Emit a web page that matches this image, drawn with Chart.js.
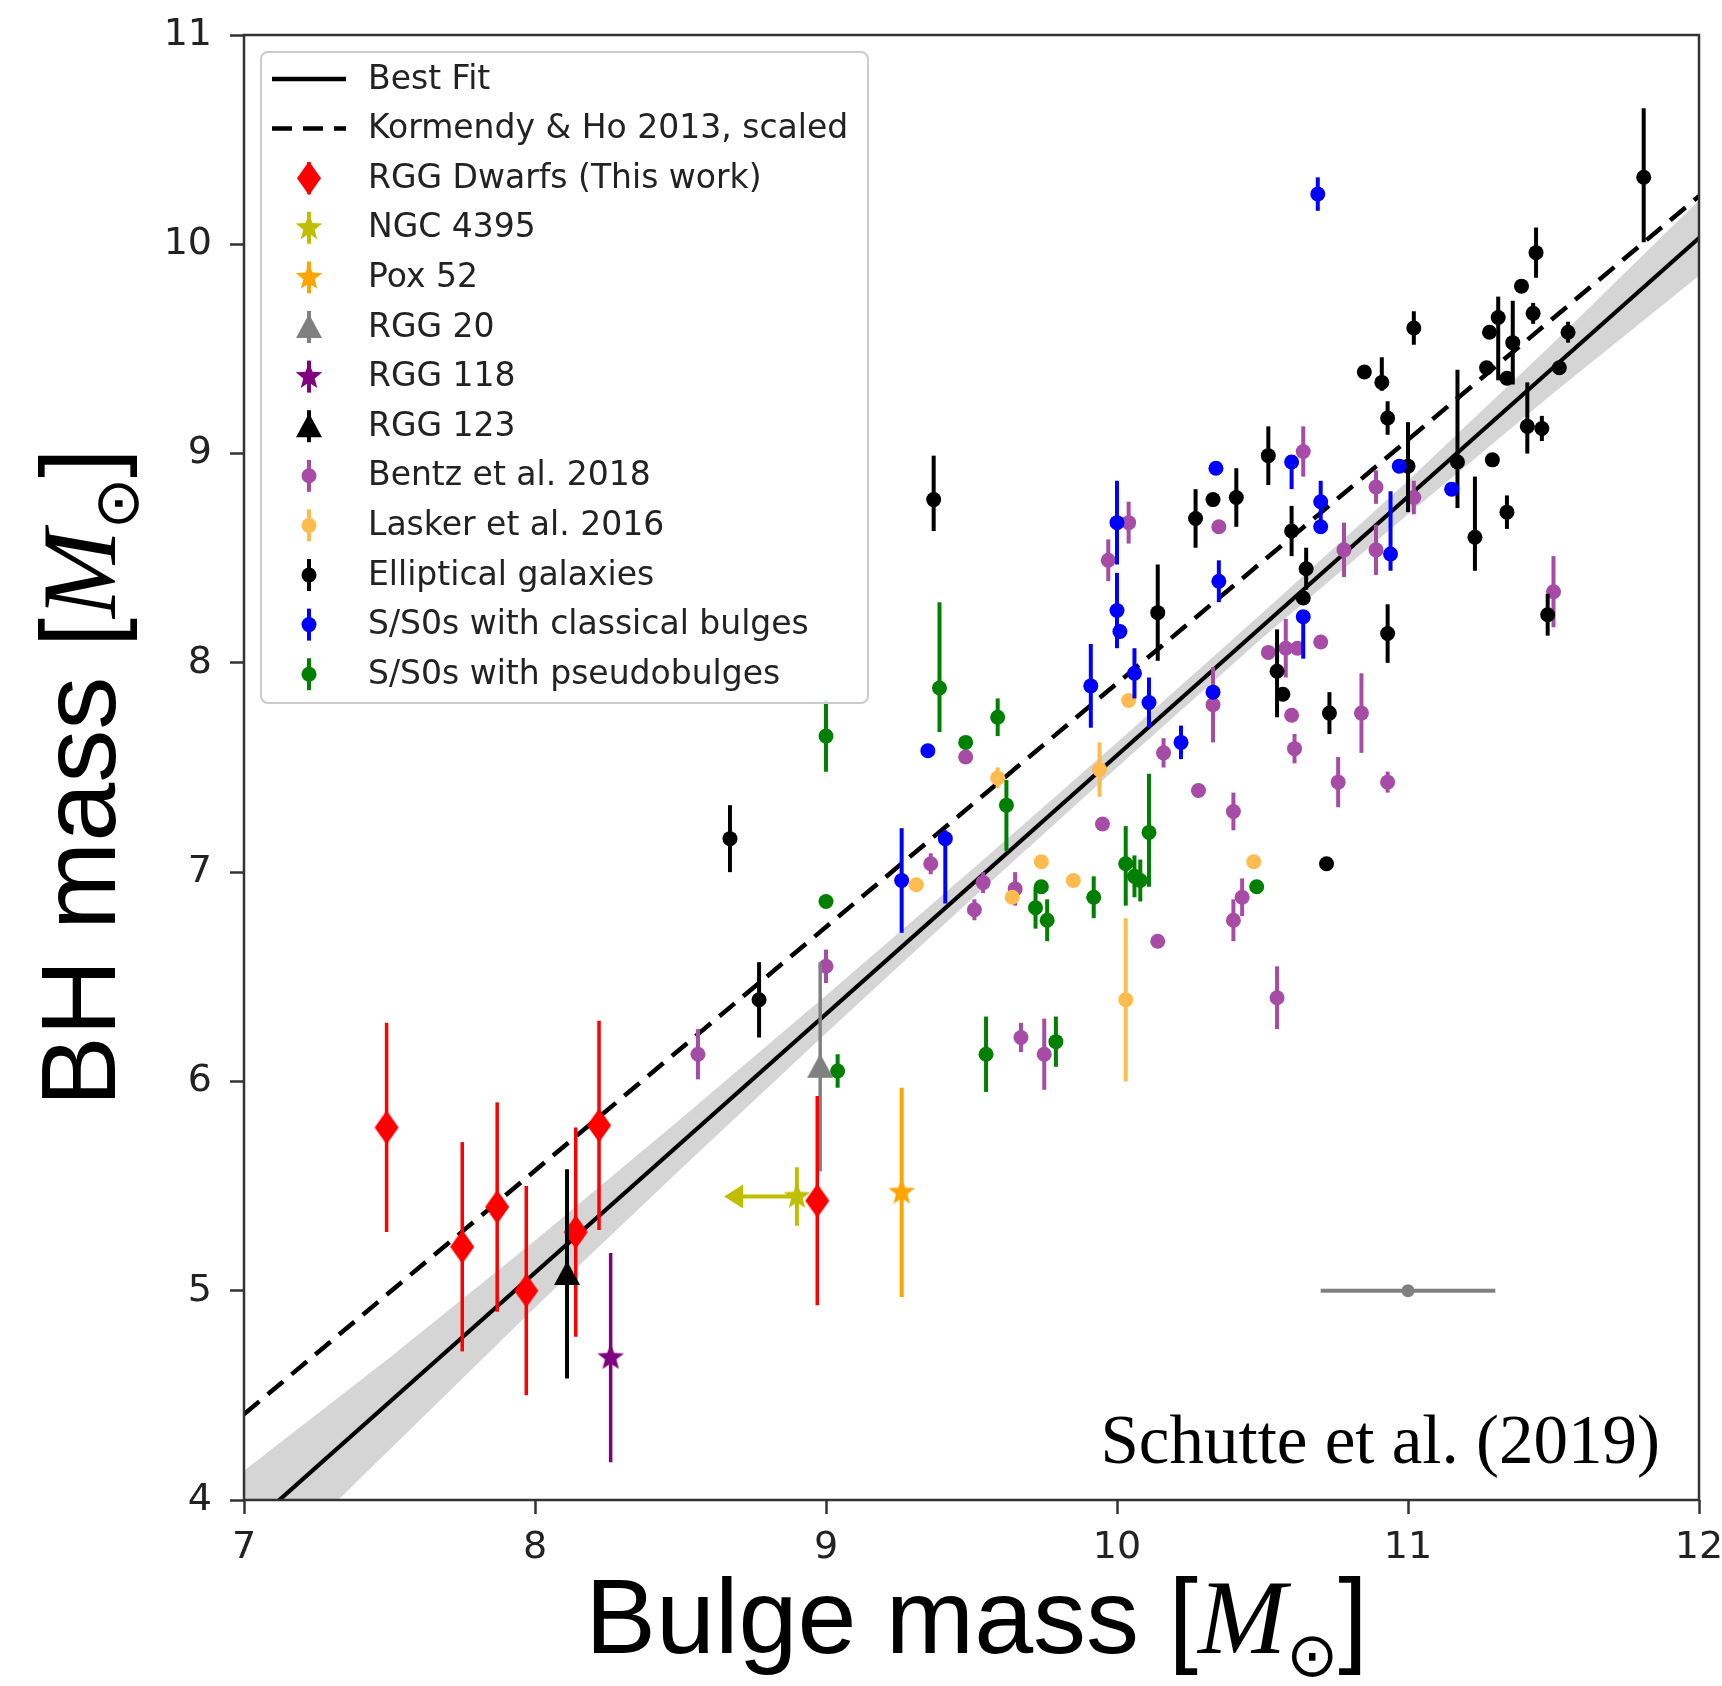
<!DOCTYPE html>
<html lang="en">
<head>
<meta charset="utf-8">
<title>BH mass vs bulge mass</title>
<script src="https://cdn.jsdelivr.net/npm/chart.js@4.4.1/dist/chart.umd.min.js"></script>
<style>
  html, body { margin: 0; padding: 0; background: #fff; }
  canvas { display: block; }
</style>
</head>
<body>
<canvas id="chart" width="1722" height="1686"></canvas>
<script>
/* ---------------- datos (log10 masas) ---------------- */
const X_TICKS = [7, 8, 9, 10, 11, 12];
const Y_TICKS = [4, 5, 6, 7, 8, 9, 10, 11];

// rectas y banda de confianza
const fitX = [7, 12];
const fitY = [3.85, 10.03];
const khX = [7, 12];
const khY = [4.41, 10.23];
const bandX  = [7, 7.5, 8, 8.5, 9, 9.5, 10, 10.5, 11, 11.5, 12];
const bandLo = [3.56, 4.24, 4.92, 5.58, 6.23, 6.87, 7.50, 8.12, 8.71, 9.29, 9.85];
const bandHi = [4.14, 4.68, 5.24, 5.82, 6.41, 7.01, 7.62, 8.24, 8.87, 9.53, 10.21];

// RGG dwarfs (this work)
const dwarfX = [7.49, 7.75, 7.87, 7.97, 8.14, 8.22, 8.97];
const dwarfY = [5.78, 5.21, 5.40, 5.00, 5.28, 5.79, 5.43];
const dwarfErr = [0.5, 0.5, 0.5, 0.5, 0.5, 0.5, 0.5];

// objetos sueltos
const ngcX = [8.90], ngcY = [5.45], ngcErr = [0.14], ngcXLimit = [8.65];
const poxX = [9.26], poxY = [5.47], poxErr = [0.5];
const rgg20X = [8.98], rgg20Y = [6.07], rgg20Err = [0.5];
const rgg118X = [8.26], rgg118Y = [4.68], rgg118Err = [0.5];
const rgg123X = [8.11], rgg123Y = [5.08], rgg123Err = [0.5];
const typX = [11.0], typY = [5.0], typXErr = [0.3];

// Bentz et al. 2018
const bentzX = [8.56, 9.00, 9.36, 9.48, 9.51, 9.54, 9.65, 9.67, 9.75, 9.95, 9.97, 10.04, 10.14, 10.16, 10.28, 10.33, 10.35, 10.40,
  10.40, 10.43, 10.52, 10.55, 10.58, 10.60, 10.61, 10.62, 10.64, 10.70, 10.76, 10.78, 10.84, 10.89, 10.89, 10.93, 11.02, 11.50];
const bentzY = [6.13, 6.55, 7.04, 7.55, 6.82, 6.95, 6.92, 6.21, 6.13, 7.23, 8.49, 8.67, 6.67, 7.57, 7.39, 7.80, 8.65, 7.29,
  6.77, 6.88, 8.05, 6.40, 8.07, 7.75, 7.59, 8.07, 9.01, 8.10, 7.43, 8.54, 7.76, 8.84, 8.54, 7.43, 8.79, 8.34];
const bentzErr = [0.12, 0.08, 0.05, 0, 0.05, 0.05, 0.08, 0.07, 0.17, 0, 0.1, 0.1, 0, 0.07, 0, 0.18, 0, 0.09,
  0.1, 0.09, 0, 0.15, 0.14, 0, 0.07, 0, 0.12, 0, 0.12, 0.13, 0.19, 0.08, 0.12, 0.05, 0.08, 0.17];

// Lasker et al. 2016
const laskerX = [9.31, 9.59, 9.64, 9.74, 9.85, 9.94, 10.03, 10.04, 10.47];
const laskerY = [6.94, 7.45, 6.88, 7.05, 6.96, 7.49, 6.39, 7.82, 7.05];
const laskerErr = [0, 0.05, 0, 0, 0, 0.13, 0.39, 0, 0];

// Elliptical galaxies
const ellX = [8.67, 8.77, 9.37, 10.14, 10.27, 10.33, 10.41, 10.52, 10.55, 10.57, 10.60, 10.64, 10.65, 10.72, 10.73, 10.85, 10.91, 10.93, 10.93, 11.00,
  11.02, 11.17, 11.23, 11.27, 11.28, 11.29, 11.31, 11.34, 11.34, 11.36, 11.39, 11.41, 11.43, 11.44, 11.46, 11.48, 11.52, 11.55, 11.81];
const ellY = [7.16, 6.39, 8.78, 8.24, 8.69, 8.78, 8.79, 8.99, 7.96, 7.85, 8.63, 8.31, 8.45, 7.04, 7.76, 9.39, 9.34, 9.17, 8.14, 8.94,
  9.60, 8.96, 8.60, 9.41, 9.58, 8.97, 9.65, 8.72, 9.36, 9.53, 9.80, 9.13, 9.67, 9.96, 9.12, 8.23, 9.41, 9.58, 10.32];
const ellLo = [0.16, 0.18, 0.15, 0.23, 0.14, 0, 0.14, 0.14, 0.22, 0, 0.12, 0, 0.1, 0, 0.1, 0, 0.04, 0.08, 0.14, 0.22,
  0.08, 0.22, 0.16, 0, 0, 0, 0.3, 0.08, 0, 0.2, 0, 0.13, 0.05, 0.12, 0.06, 0.1, 0, 0.05, 0.31];
const ellHi = [0.16, 0.18, 0.21, 0.23, 0.14, 0, 0.14, 0.14, 0.20, 0, 0.12, 0, 0.1, 0, 0.1, 0, 0.12, 0.08, 0.14, 0.21,
  0.08, 0.44, 0.29, 0, 0, 0, 0.1, 0.08, 0, 0.2, 0, 0.21, 0.05, 0.12, 0.06, 0.1, 0, 0.05, 0.33];

// S/S0s with classical bulges
const blueX = [9.26, 9.35, 9.41, 9.91, 10.00, 10.00, 10.01, 10.06, 10.11, 10.22, 10.33, 10.34, 10.35, 10.60, 10.64, 10.69, 10.70, 10.70, 10.94, 10.97, 11.15];
const blueY = [6.96, 7.58, 7.16, 7.89, 8.67, 8.25, 8.15, 7.95, 7.81, 7.62, 7.86, 8.93, 8.39, 8.96, 8.22, 10.24, 8.77, 8.65, 8.52, 8.94, 8.83];
const blueLo = [0.25, 0, 0.31, 0.2, 0.2, 0.18, 0, 0.12, 0.12, 0.08, 0, 0, 0.1, 0.13, 0.2, 0.08, 0.1, 0, 0.08, 0, 0];
const blueHi = [0.25, 0, 0.04, 0.2, 0.2, 0.18, 0, 0.12, 0.12, 0.08, 0, 0, 0.1, 0, 0, 0.08, 0.1, 0, 0.3, 0, 0];

// S/S0s with pseudobulges
const greenX = [9.00, 9.00, 9.04, 9.39, 9.48, 9.55, 9.59, 9.62, 9.72, 9.74, 9.76, 9.79, 9.92, 10.03, 10.06, 10.08, 10.11, 10.48];
const greenY = [7.65, 6.86, 6.05, 7.88, 7.62, 6.13, 7.74, 7.32, 6.83, 6.93, 6.77, 6.19, 6.88, 7.04, 6.98, 6.96, 7.19, 6.93];
const greenLo = [0.17, 0, 0.08, 0.21, 0, 0.18, 0.09, 0.22, 0.1, 0.03, 0.1, 0.12, 0.1, 0.2, 0.1, 0.1, 0.26, 0];
const greenHi = [0.17, 0, 0.08, 0.41, 0, 0.18, 0.09, 0.12, 0.1, 0.03, 0.1, 0.12, 0.1, 0.18, 0.1, 0.1, 0.28, 0];

const legendLabels = ["Best Fit", "Kormendy & Ho 2013, scaled", "RGG Dwarfs (This work)", "NGC 4395", "Pox 52", "RGG 20",
  "RGG 118", "RGG 123", "Bentz et al. 2018", "Lasker et al. 2016", "Elliptical galaxies",
  "S/S0s with classical bulges", "S/S0s with pseudobulges"];

/* ---------------- estilos ---------------- */
const CLR = {
  red: "#ff0000", olive: "#bfbf00", orange: "#ffa500", gray: "#808080", purple: "#800080", black: "#000000",
  bentz: "#a64ca6", lasker: "#ffbb4d", blue: "#0000ff", green: "#008000", ink: "#222222", spine: "#333333",
};
const SANS = '106px "Liberation Sans"';
const MIT = 'italic 106px "Liberation Serif"';
const SUN = '62px "DejaVu Sans"';
const X_TITLE = [["Bulge mass [", SANS], ["M", MIT], ["\u2299", SUN, 23], ["]", SANS]];
const Y_TITLE = [["BH mass [", SANS], ["M", MIT], ["\u2299", SUN, 23], ["]", SANS]];

function paintShape(ctx, shape, cx, cy, color) {
  ctx.fillStyle = color;
  ctx.beginPath();
  if (shape === "dmd") { ctx.moveTo(cx, cy - 17); ctx.lineTo(cx + 12, cy); ctx.lineTo(cx, cy + 17); ctx.lineTo(cx - 12, cy); }
  else if (shape === "star") {
    for (let k = 0; k < 10; k++) {
      const r = k % 2 ? 6 : 14, a = -Math.PI / 2 + k * Math.PI / 5;
      ctx.lineTo(cx + r * Math.cos(a), cy + r * Math.sin(a));
    }
  }
  else if (shape === "tri") { ctx.moveTo(cx, cy - 13); ctx.lineTo(cx + 13, cy + 11); ctx.lineTo(cx - 13, cy + 11); }
  else ctx.arc(cx, cy, 7.5, 0, Math.PI * 2);
  ctx.closePath(); ctx.fill();
}
function sprite(shape, color) {
  const c = document.createElement("canvas");
  c.width = 40; c.height = 40;
  paintShape(c.getContext("2d"), shape, 20, 20, color);
  return c;
}
const pts = (xs, ys) => xs.map((x, i) => ({ x, y: ys[i] }));

function serie(label, xs, ys, color, shape, order, extra) {
  const big = shape !== "dot";
  return Object.assign({
    type: "scatter", label, data: pts(xs, ys), barColor: color, barWidth: big ? 3.5 : 4,
    pointStyle: big ? sprite(shape, color) : "circle", pointRadius: big ? 14 : 7.5,
    pointBackgroundColor: color, pointBorderWidth: 0, borderColor: color, order,
  }, extra);
}

/* ---------------- plugins ---------------- */
// barras de error (se dibujan justo antes de los puntos de cada serie)
const errorBars = {
  id: "errorBars",
  beforeDatasetDraw(chart, args) {
    const ds = chart.data.datasets[args.index];
    if (!ds.barColor) return;
    const { ctx, chartArea: a, scales: { x, y } } = chart;
    ctx.save();
    ctx.beginPath(); ctx.rect(a.left, a.top, a.right - a.left, a.bottom - a.top); ctx.clip();
    ctx.strokeStyle = ds.barColor; ctx.fillStyle = ds.barColor; ctx.lineWidth = ds.barWidth;
    ds.data.forEach((p, i) => {
      const px = x.getPixelForValue(p.x), py = y.getPixelForValue(p.y);
      const lo = ds.errLo ? ds.errLo[i] : (ds.err ? ds.err[i] : 0);
      const hi = ds.errHi ? ds.errHi[i] : (ds.err ? ds.err[i] : 0);
      ctx.beginPath();
      if (lo || hi) { ctx.moveTo(px, y.getPixelForValue(p.y - lo)); ctx.lineTo(px, y.getPixelForValue(p.y + hi)); }
      if (ds.xErr) { ctx.moveTo(x.getPixelForValue(p.x - ds.xErr[i]), py); ctx.lineTo(x.getPixelForValue(p.x + ds.xErr[i]), py); }
      if (ds.xLimit) {
        const lx = x.getPixelForValue(ds.xLimit[i]);
        ctx.moveTo(lx + 10, py); ctx.lineTo(px, py);
      }
      ctx.stroke();
      if (ds.xLimit) { // punta de flecha (límite superior)
        const lx = x.getPixelForValue(ds.xLimit[i]);
        ctx.beginPath(); ctx.moveTo(lx, py); ctx.lineTo(lx + 19, py - 12); ctx.lineTo(lx + 19, py + 12); ctx.closePath(); ctx.fill();
      }
    });
    ctx.restore();
  },
};

function richText(ctx, parts, x, y) {
  let w = 0;
  parts.forEach((p) => { ctx.font = p[1]; w += ctx.measureText(p[0]).width; });
  let cx = x - w / 2;
  parts.forEach((p) => { ctx.font = p[1]; ctx.fillText(p[0], cx, y + (p[2] || 0)); cx += ctx.measureText(p[0]).width; });
}

const HANDLES = [["line"], ["dash"], ["dmd", CLR.red], ["star", CLR.olive], ["star", CLR.orange], ["tri", CLR.gray],
  ["star", CLR.purple], ["tri", CLR.black], ["dot", CLR.bentz], ["dot", CLR.lasker], ["dot", CLR.black], ["dot", CLR.blue], ["dot", CLR.green]];

const decor = {
  id: "decor",
  afterDraw(chart) {
    const { ctx, chartArea: a } = chart;
    // marco de los ejes
    ctx.save();
    ctx.strokeStyle = CLR.spine; ctx.lineWidth = 2.5;
    ctx.strokeRect(a.left, a.top, a.right - a.left, a.bottom - a.top);
    ctx.restore();

    // leyenda
    const L = a.left + 17, T = a.top + 17, W = 607, H = 651, hx = L + 48, tx = L + 107;
    ctx.save();
    ctx.beginPath(); ctx.roundRect(L, T, W, H, 7);
    ctx.fillStyle = "rgba(255,255,255,0.85)"; ctx.fill();
    ctx.strokeStyle = "#cccccc"; ctx.lineWidth = 2; ctx.stroke();
    ctx.font = '33px "DejaVu Sans"'; ctx.textBaseline = "middle"; ctx.textAlign = "left";
    legendLabels.forEach((t, i) => {
      const cy = T + 27 + i * 49.6, h = HANDLES[i];
      if (h[0] === "line" || h[0] === "dash") {
        ctx.strokeStyle = "#000"; ctx.lineWidth = 4.5;
        ctx.setLineDash(h[0] === "dash" ? [20, 11] : []);
        ctx.beginPath(); ctx.moveTo(hx - 37, cy); ctx.lineTo(hx + 37, cy); ctx.stroke();
        ctx.setLineDash([]);
      } else {
        ctx.strokeStyle = h[1]; ctx.lineWidth = 4;
        ctx.beginPath(); ctx.moveTo(hx, cy - 16); ctx.lineTo(hx, cy + 16); ctx.stroke();
        paintShape(ctx, h[0], hx, cy, h[1]);
      }
      ctx.fillStyle = CLR.ink; ctx.fillText(t, tx, cy + 1);
    });
    ctx.restore();

    // títulos de ejes
    ctx.save();
    ctx.fillStyle = "#000"; ctx.textAlign = "left"; ctx.textBaseline = "alphabetic";
    richText(ctx, X_TITLE, (a.left + a.right) / 2 + 5, a.bottom + 153);
    ctx.translate(a.left - 129, (a.top + a.bottom) / 2 + 10);
    ctx.rotate(-Math.PI / 2);
    richText(ctx, Y_TITLE, 0, 0);
    ctx.restore();

    // firma
    ctx.save();
    ctx.font = '69px "Liberation Serif"'; ctx.textAlign = "right"; ctx.textBaseline = "alphabetic"; ctx.fillStyle = "#000";
    ctx.fillText("Schutte et al. (2019)", a.right - 39, a.bottom - 37);
    ctx.restore();
  },
};

/* ---------------- gráfica ---------------- */
const datasets = [
  serie("RGG Dwarfs (This work)", dwarfX, dwarfY, CLR.red, "dmd", 1, { err: dwarfErr }),
  serie("NGC 4395", ngcX, ngcY, CLR.olive, "star", 2, { err: ngcErr, xLimit: ngcXLimit, barWidth: 4 }),
  serie("Pox 52", poxX, poxY, CLR.orange, "star", 3, { err: poxErr, barWidth: 4 }),
  serie("RGG 20", rgg20X, rgg20Y, CLR.gray, "tri", 4, { err: rgg20Err }),
  serie("RGG 118", rgg118X, rgg118Y, CLR.purple, "star", 5, { err: rgg118Err }),
  serie("RGG 123", rgg123X, rgg123Y, CLR.black, "tri", 0, { err: rgg123Err, barWidth: 4 }),
  serie("typical error", typX, typY, CLR.gray, "dot", 10, { xErr: typXErr, pointRadius: 6.5 }),
  serie("S/S0s with pseudobulges", greenX, greenY, CLR.green, "dot", 20, { errLo: greenLo, errHi: greenHi }),
  serie("S/S0s with classical bulges", blueX, blueY, CLR.blue, "dot", 21, { errLo: blueLo, errHi: blueHi }),
  serie("Elliptical galaxies", ellX, ellY, CLR.black, "dot", 22, { errLo: ellLo, errHi: ellHi }),
  serie("Lasker et al. 2016", laskerX, laskerY, CLR.lasker, "dot", 23, { err: laskerErr }),
  serie("Bentz et al. 2018", bentzX, bentzY, CLR.bentz, "dot", 24, { err: bentzErr }),
  { type: "line", label: "Kormendy & Ho 2013, scaled", data: pts(khX, khY), borderColor: "#000", borderWidth: 4.5,
    borderDash: [20, 11], pointRadius: 0, fill: false, order: 40, clip: 0 },
  { type: "line", label: "Best Fit", data: pts(fitX, fitY), borderColor: "#000", borderWidth: 4.2,
    pointRadius: 0, fill: false, order: 41, clip: 0 },
  { type: "line", label: "band hi", data: pts(bandX, bandHi), borderColor: "transparent", borderWidth: 1,
    pointRadius: 0, fill: "+1", backgroundColor: "rgba(128,128,128,0.33)", order: 50, clip: 0 },
  { type: "line", label: "band lo", data: pts(bandX, bandLo), borderColor: "transparent", borderWidth: 1,
    pointRadius: 0, fill: false, order: 51, clip: 0 },
];

const tickFont = { family: "DejaVu Sans", size: 38 };
new Chart(document.getElementById("chart"), {
  type: "scatter",
  data: { datasets },
  options: {
    responsive: false, animation: false, events: [], devicePixelRatio: 1,
    layout: { padding: { top: 35, right: 23, left: 0, bottom: 0 } },
    plugins: { legend: { display: false }, tooltip: { enabled: false } },
    scales: {
      x: {
        type: "linear", min: X_TICKS[0], max: X_TICKS[X_TICKS.length - 1],
        ticks: { stepSize: 1, font: tickFont, color: CLR.ink, padding: 11, maxRotation: 0, autoSkip: false },
        grid: { drawOnChartArea: false, tickLength: 14, tickWidth: 2.5, tickColor: CLR.spine },
        border: { display: false },
        afterFit(s) { s.height = 186; s.paddingLeft = 0; s.paddingRight = 0; },
      },
      y: {
        type: "linear", min: Y_TICKS[0], max: Y_TICKS[Y_TICKS.length - 1],
        ticks: { stepSize: 1, font: tickFont, color: CLR.ink, padding: 18, autoSkip: false },
        grid: { drawOnChartArea: false, tickLength: 14, tickWidth: 2.5, tickColor: CLR.spine },
        border: { display: false },
        afterFit(s) { s.width = 244; s.paddingTop = 0; s.paddingBottom = 0; },
      },
    },
  },
  plugins: [errorBars, decor],
});
</script>
</body>
</html>
